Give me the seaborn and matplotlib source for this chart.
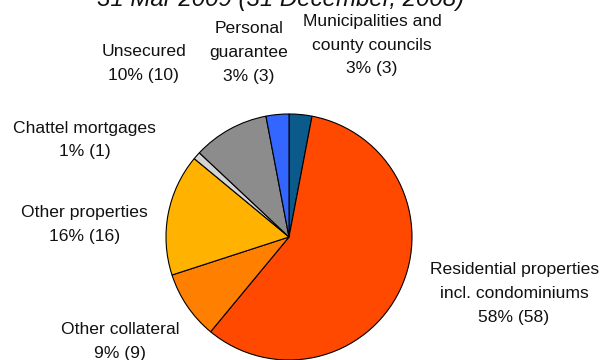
import matplotlib
matplotlib.use("Agg")
import matplotlib.pyplot as plt
import seaborn as sns

sns.set_theme(style="white")
plt.rcParams["font.family"] = ["Liberation Sans", "DejaVu Sans"]

categories = [
    "Municipalities and\ncounty councils",
    "Residential properties\nincl. condominiums",
    "Other collateral",
    "Other properties",
    "Chattel mortgages",
    "Unsecured",
    "Personal\nguarantee",
]
share_2009 = [3, 58, 9, 16, 1, 10, 3]
share_2008 = [3, 58, 9, 16, 1, 10, 3]
colors = ["#0b5a8c", "#ff4800", "#ff8000", "#ffb200", "#d4d4d4", "#8c8c8c", "#3366ff"]

# label anchor points, in pie-radius units
label_pos = [
    (0.675, 1.56),
    (1.83, -0.46),
    (-1.37, -0.85),
    (-1.66, 0.10),
    (-1.66, 0.79),
    (-1.18, 1.41),
    (-0.325, 1.50),
]

fig = plt.figure(figsize=(6.03, 3.6), dpi=100)
ax = fig.add_axes([166 / 603, 0, 246 / 603, 246 / 360])

ax.pie(
    share_2009,
    colors=colors,
    startangle=90,
    counterclock=False,
    wedgeprops=dict(edgecolor="black", linewidth=0.8),
)
ax.set_xlim(-1, 1)
ax.set_ylim(-1, 1)
ax.set_aspect("equal")
ax.axis("off")

for name, v, v_prev, (x, y) in zip(categories, share_2009, share_2008, label_pos):
    ax.text(
        x, y, f"{name}\n{v}% ({v_prev})",
        ha="center", va="center", fontsize=12.6,
        linespacing=1.72, color="#111111", clip_on=False,
    )

fig.text(
    281 / 603, 1 - 6 / 360, "31 Mar 2009 (31 December, 2008)",
    ha="center", va="baseline", fontsize=17.3, style="italic", color="#111111",
)

plt.savefig("out.png", dpi=100)
plt.close()
